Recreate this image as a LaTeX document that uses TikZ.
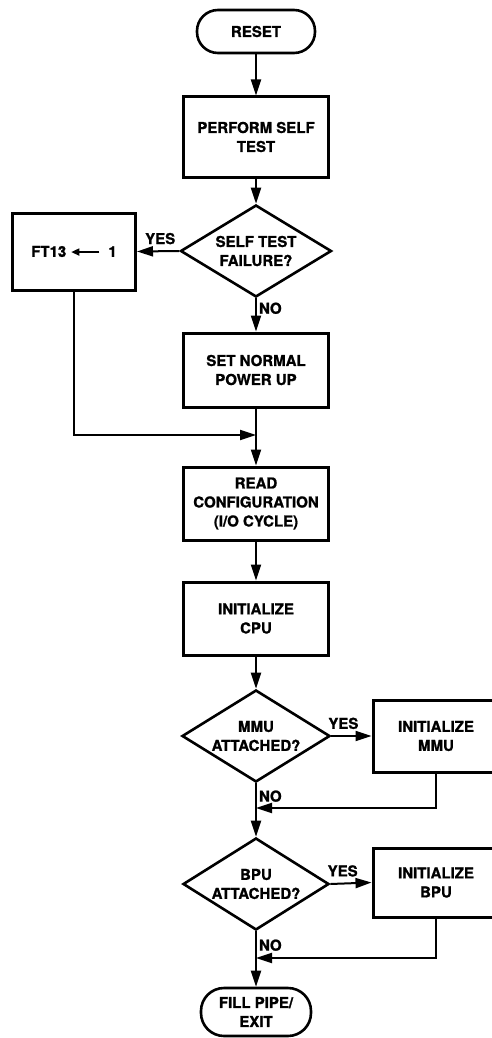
\documentclass[tikz,border=0pt]{standalone}
\usepackage{fontspec}
\setmainfont{TeX Gyre Heros}[BoldFeatures={FakeBold=1.2}]
\usetikzlibrary{arrows.meta,shapes.geometric}
\begin{document}
\begin{tikzpicture}[x=1pt,y=-1pt,
  txt/.style={font=\fontsize{15}{19}\selectfont\bfseries, align=center, inner sep=0pt},
  proc/.style={txt, draw, line width=3pt, rectangle, minimum width=145pt, minimum height=74pt},
  term/.style={txt, draw, line width=2.6pt, rectangle, rounded corners=21pt},
  decision/.style={txt, draw, line width=2.6pt, diamond, shape aspect=1.6,
                   minimum width=150pt, minimum height=92pt},
  arr/.style={line width=2pt, -{Triangle[length=16pt,width=10pt]}},
  lbl/.style={font=\fontsize{15}{19}\selectfont\bfseries, inner sep=2pt}]
\useasboundingbox (0,0) rectangle (492,1038);

% main column
\node[term, minimum width=118pt, minimum height=43pt] (reset) at (256,31.5) {RESET};
\node[proc, minimum height=80pt] (perf) at (256,137) {PERFORM SELF\\TEST};
\node[decision, minimum width=151pt] (fail) at (256,251) {SELF TEST\\FAILURE?};
\node[proc, minimum width=123pt, minimum height=77pt] (ft) at (74,251.5)
  {FT13 \tikz[baseline=-0.6ex]\draw[line width=1.6pt,-{Triangle[length=8pt,width=7pt]}] (28pt,0pt)--(0pt,0pt);\ \ 1};
\node[proc] (setn) at (256,370) {SET NORMAL\\POWER UP};
\node[proc, minimum height=73pt] (readc) at (256,503.5) {READ\\CONFIGURATION\\(I/O CYCLE)};
\node[proc, minimum height=73pt] (cpu) at (256,618.5) {INITIALIZE\\CPU};
\node[decision, minimum width=148pt] (mmu) at (256,736) {MMU\\ATTACHED?};
\node[proc, minimum width=126pt, minimum height=72pt] (mmubox) at (436,736) {INITIALIZE\\MMU};
\node[decision, minimum width=146pt] (bpu) at (256,884) {BPU\\ATTACHED?};
\node[proc, minimum width=126pt, minimum height=69pt] (bpubox) at (436,882.5) {INITIALIZE\\BPU};
\node[term, minimum width=110pt, minimum height=48pt, rounded corners=23pt] (exit) at (256,1012) {FILL PIPE/\\EXIT};

% merge points on the main column
\coordinate (m1) at (256,435);
\coordinate (m2) at (256,808);
\coordinate (m3) at (256,958);

% connectors
\draw[arr] (reset) -- (perf);
\draw[arr] (perf) -- (fail);
\draw[arr] (fail.west) -- node[lbl, above, pos=0.45, yshift=4pt] {YES} (ft.east);
\draw[arr] (fail.south) -- node[lbl, right, pos=0.3] {NO} (setn.north);
\draw[arr] (ft.south) |- (m1);
\draw[arr] (setn) -- (readc);
\draw[arr] (readc) -- (cpu);
\draw[arr] (cpu) -- (mmu);
\draw[arr] (mmu.east) -- node[lbl, above, pos=0.3, yshift=4pt] {YES} (mmubox.west);
\draw[arr] (mmu.south) -- node[lbl, right, pos=0.24] {NO} (bpu.north);
\draw[arr] (mmubox.south) |- (m2);
\draw[arr] (bpu.east) -- node[lbl, above, pos=0.3, yshift=4pt] {YES} (bpubox.west);
\draw[arr] (bpu.south) -- node[lbl, right, pos=0.25] {NO} (exit.north);
\draw[arr] (bpubox.south) |- (m3);
\end{tikzpicture}
\end{document}
